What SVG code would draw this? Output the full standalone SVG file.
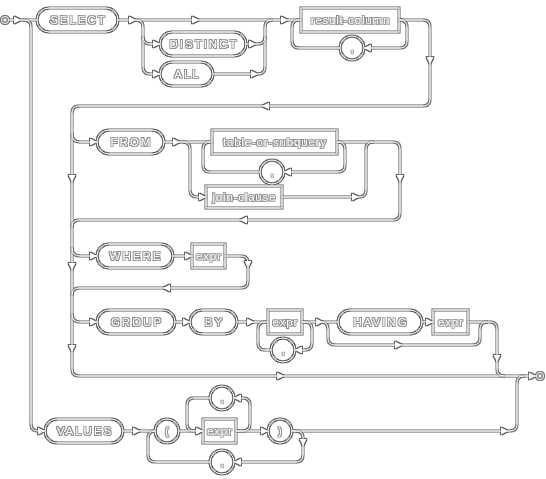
<svg xmlns="http://www.w3.org/2000/svg" xmlns:xlink="http://www.w3.org/1999/xlink" width="546" height="479" viewBox="0 0 546 479">
<defs>
<filter id="outline" filterUnits="userSpaceOnUse" x="0" y="0" width="546" height="479" color-interpolation-filters="sRGB">
<feColorMatrix in="SourceGraphic" type="matrix" values="0 0 0 0 0  0 0 0 0 0  0 0 0 0 0  -2 0 0 1 0" result="lm"/>
<feColorMatrix in="SourceGraphic" type="matrix" values="0 0 0 0 0  0 0 0 0 0  0 0 0 0 0  2 0 0 1 -1" result="tm"/>
<feMorphology in="lm" operator="dilate" radius="1" result="ld"/>
<feComposite in="ld" in2="lm" operator="out" result="lo"/>
<feFlood flood-color="#5c5c5c" result="lc"/>
<feComposite in="lc" in2="lo" operator="in" result="lf"/>
<feMorphology in="tm" operator="dilate" radius="1" result="td"/>
<feComposite in="td" in2="tm" operator="out" result="to"/>
<feFlood flood-color="#8c8c8c" result="tc"/>
<feComposite in="tc" in2="to" operator="in" result="tf"/>
<feMerge><feMergeNode in="lf"/><feMergeNode in="tf"/></feMerge>
</filter>
<path id="a" d="M0,0 L-7,-3.5 L-7,3.5 Z"/>
</defs>
<style>
.ln{fill:none;stroke:#000;stroke-width:1}
.sh{fill:none;stroke:#000;stroke-width:1}
.ah{fill:#000;stroke:none}
text{font-family:"Liberation Sans",Arial,sans-serif;font-size:11.5px;fill:#808080;text-anchor:middle;dominant-baseline:central;letter-spacing:0.8px}
text.k{letter-spacing:2px}
</style>
<rect width="546" height="479" fill="#fff"/>
<g filter="url(#outline)">
<g id="connectors">
<circle class="sh" cx="5" cy="20" r="3.5"/>
<circle class="sh" cx="540" cy="376" r="3.5"/>
<path class="ln" d="M8.5,20 H37"/>
<path class="ln" d="M24,20 Q31,20 31,27 V424 Q31,431 38,431 H45"/>
<path class="ln" d="M118,20 H301"/>
<path class="ln" d="M136,20 Q143,20 143,27 V67 Q143,74 150,74 H160"/>
<path class="ln" d="M143,37 Q143,44 150,44 H160"/>
<path class="ln" d="M246,44 H258 Q265,44 265,37"/>
<path class="ln" d="M213,74 H258 Q265,74 265,67 V27 Q265,20 272,20"/>
<path class="ln" d="M399,20 H400 Q407,20 407,27 V41 Q407,48 400,48 H364"/>
<path class="ln" d="M340,48 H299 Q292,48 292,41 V27 Q292,20 299,20"/>
<path class="ln" d="M399,20 H423 Q430,20 430,27 V99 Q430,106 423,106 H79 Q72,106 72,113 V369 Q72,376 79,376 H536"/>
<path class="ln" d="M72,134 Q72,142 80,142 H97"/>
<path class="ln" d="M164,142 H212"/>
<path class="ln" d="M183,142 Q190,142 190,149 V190 Q190,197 197,197 H206"/>
<path class="ln" d="M337,142 H338 Q345,142 345,149 V165 Q345,172 338,172 H284"/>
<path class="ln" d="M260,172 H210 Q203,172 203,165 V149 Q203,142 210,142"/>
<path class="ln" d="M282,197 H359 Q366,197 366,190 V149 Q366,142 373,142"/>
<path class="ln" d="M337,142 H393 Q400,142 400,149 V213 Q400,220 393,220 H79 Q72,220 72,227"/>
<path class="ln" d="M72,248 Q72,256 80,256 H97"/>
<path class="ln" d="M173,256 H192"/>
<path class="ln" d="M225,256 H241 Q248,256 248,263 V281 Q248,288 241,288 H79 Q72,288 72,295"/>
<path class="ln" d="M72,314 Q72,322 80,322 H97"/>
<path class="ln" d="M175,322 H190"/>
<path class="ln" d="M237,322 H268"/>
<path class="ln" d="M302,322 H305 Q312,322 312,329 V343 Q312,350 305,350 H295"/>
<path class="ln" d="M271,350 H265 Q258,350 258,343 V329 Q258,322 265,322"/>
<path class="ln" d="M302,322 H338"/>
<path class="ln" d="M321,322 Q328,322 328,329 V338 Q328,345 335,345 H473 Q480,345 480,338 V329 Q480,322 487,322"/>
<path class="ln" d="M422,322 H433"/>
<path class="ln" d="M468,322 H490 Q497,322 497,329 V369 Q497,376 504,376"/>
<path class="ln" d="M123,431 H155"/>
<path class="ln" d="M179,431 H203"/>
<path class="ln" d="M236,431 H243 Q250,431 250,424 V405 Q250,398 243,398 H234"/>
<path class="ln" d="M210,398 H194 Q187,398 187,405 V424 Q187,431 194,431"/>
<path class="ln" d="M236,431 H268"/>
<path class="ln" d="M292,431 H296 Q303,431 303,438 V455 Q303,462 296,462 H234"/>
<path class="ln" d="M210,462 H155 Q148,462 148,455 V438 Q148,431 155,431"/>
<path class="ln" d="M292,431 H510 Q517,431 517,424 V383 Q517,376 524,376"/>
<use class="ah" xlink:href="#a" transform="translate(21,20)"/>
<use class="ah" xlink:href="#a" transform="translate(45,431)"/>
<use class="ah" xlink:href="#a" transform="translate(136,20)"/>
<use class="ah" xlink:href="#a" transform="translate(199,20)"/>
<use class="ah" xlink:href="#a" transform="translate(288,20)"/>
<use class="ah" xlink:href="#a" transform="translate(160,44)"/>
<use class="ah" xlink:href="#a" transform="translate(160,74)"/>
<use class="ah" xlink:href="#a" transform="translate(256,44)"/>
<use class="ah" xlink:href="#a" transform="translate(258,74)"/>
<use class="ah" xlink:href="#a" transform="translate(364,48) rotate(180)"/>
<use class="ah" xlink:href="#a" transform="translate(430,64) rotate(90)"/>
<use class="ah" xlink:href="#a" transform="translate(262,106) rotate(180)"/>
<use class="ah" xlink:href="#a" transform="translate(72,182) rotate(90)"/>
<use class="ah" xlink:href="#a" transform="translate(72,270) rotate(90)"/>
<use class="ah" xlink:href="#a" transform="translate(72,352) rotate(90)"/>
<use class="ah" xlink:href="#a" transform="translate(97,142)"/>
<use class="ah" xlink:href="#a" transform="translate(180,142)"/>
<use class="ah" xlink:href="#a" transform="translate(206,197)"/>
<use class="ah" xlink:href="#a" transform="translate(284,172) rotate(180)"/>
<use class="ah" xlink:href="#a" transform="translate(359,197)"/>
<use class="ah" xlink:href="#a" transform="translate(400,182) rotate(90)"/>
<use class="ah" xlink:href="#a" transform="translate(240,220) rotate(180)"/>
<use class="ah" xlink:href="#a" transform="translate(97,256)"/>
<use class="ah" xlink:href="#a" transform="translate(192,256)"/>
<use class="ah" xlink:href="#a" transform="translate(248,268) rotate(90)"/>
<use class="ah" xlink:href="#a" transform="translate(163,288) rotate(180)"/>
<use class="ah" xlink:href="#a" transform="translate(97,322)"/>
<use class="ah" xlink:href="#a" transform="translate(190,322)"/>
<use class="ah" xlink:href="#a" transform="translate(254,322)"/>
<use class="ah" xlink:href="#a" transform="translate(295,350) rotate(180)"/>
<use class="ah" xlink:href="#a" transform="translate(323,322)"/>
<use class="ah" xlink:href="#a" transform="translate(402,345)"/>
<use class="ah" xlink:href="#a" transform="translate(433,322)"/>
<use class="ah" xlink:href="#a" transform="translate(497,362) rotate(90)"/>
<use class="ah" xlink:href="#a" transform="translate(284,376)"/>
<use class="ah" xlink:href="#a" transform="translate(536,376)"/>
<use class="ah" xlink:href="#a" transform="translate(140,431)"/>
<use class="ah" xlink:href="#a" transform="translate(203,431)"/>
<use class="ah" xlink:href="#a" transform="translate(234,398) rotate(180)"/>
<use class="ah" xlink:href="#a" transform="translate(268,431)"/>
<use class="ah" xlink:href="#a" transform="translate(303,446) rotate(90)"/>
<use class="ah" xlink:href="#a" transform="translate(234,462) rotate(180)"/>
<use class="ah" xlink:href="#a" transform="translate(508,431)"/>
</g>
<g id="n-select"><rect class="sh" x="37" y="8" width="81" height="24" rx="12"/><text class="k" x="78.5" y="20">SELECT</text></g>
<g id="n-distinct"><rect class="sh" x="160" y="32" width="86" height="24" rx="12"/><text class="k" x="204" y="44">DISTINCT</text></g>
<g id="n-all"><rect class="sh" x="160" y="62" width="53" height="24" rx="12"/><text class="k" x="187.5" y="74">ALL</text></g>
<g id="n-result-column"><rect class="sh" x="301" y="8" width="98" height="24"/><text x="350.4" y="20">result-column</text></g>
<g id="n-comma1"><circle class="sh" cx="352" cy="48" r="12"/><text x="352.4" y="48">,</text></g>
<g id="n-from"><rect class="sh" x="97" y="130" width="67" height="24" rx="12"/><text class="k" x="131.5" y="142">FROM</text></g>
<g id="n-table-or-subquery"><rect class="sh" x="212" y="130" width="125" height="24"/><text x="274.9" y="142">table-or-subquery</text></g>
<g id="n-comma2"><circle class="sh" cx="272" cy="172" r="12"/><text x="272.4" y="172">,</text></g>
<g id="n-join-clause"><rect class="sh" x="206" y="186" width="76" height="22"/><text x="244.4" y="197">join-clause</text></g>
<g id="n-where"><rect class="sh" x="97" y="244" width="76" height="24" rx="12"/><text class="k" x="136" y="256">WHERE</text></g>
<g id="n-expr1"><rect class="sh" x="192" y="244" width="33" height="24"/><text x="208.9" y="256">expr</text></g>
<g id="n-group"><rect class="sh" x="97" y="310" width="78" height="24" rx="12"/><text class="k" x="137" y="322">GROUP</text></g>
<g id="n-by"><rect class="sh" x="190" y="310" width="47" height="24" rx="12"/><text class="k" x="214.5" y="322">BY</text></g>
<g id="n-expr2"><rect class="sh" x="268" y="310" width="34" height="24"/><text x="285.4" y="322">expr</text></g>
<g id="n-comma3"><circle class="sh" cx="283" cy="350" r="12"/><text x="283.4" y="350">,</text></g>
<g id="n-having"><rect class="sh" x="338" y="310" width="84" height="24" rx="12"/><text class="k" x="381" y="322">HAVING</text></g>
<g id="n-expr3"><rect class="sh" x="433" y="310" width="35" height="24"/><text x="450.9" y="322">expr</text></g>
<g id="n-values"><rect class="sh" x="45" y="419" width="78" height="24" rx="12"/><text class="k" x="85" y="431">VALUES</text></g>
<g id="n-lparen"><circle class="sh" cx="167" cy="431" r="12"/><text x="167.4" y="431">(</text></g>
<g id="n-expr4"><rect class="sh" x="203" y="419" width="33" height="24"/><text x="219.9" y="431">expr</text></g>
<g id="n-comma4"><circle class="sh" cx="222" cy="398" r="12"/><text x="222.4" y="398">,</text></g>
<g id="n-rparen"><circle class="sh" cx="280" cy="431" r="12"/><text x="280.4" y="431">)</text></g>
<g id="n-comma5"><circle class="sh" cx="222" cy="462" r="12"/><text x="222.4" y="462">,</text></g>
</g>
</svg>
